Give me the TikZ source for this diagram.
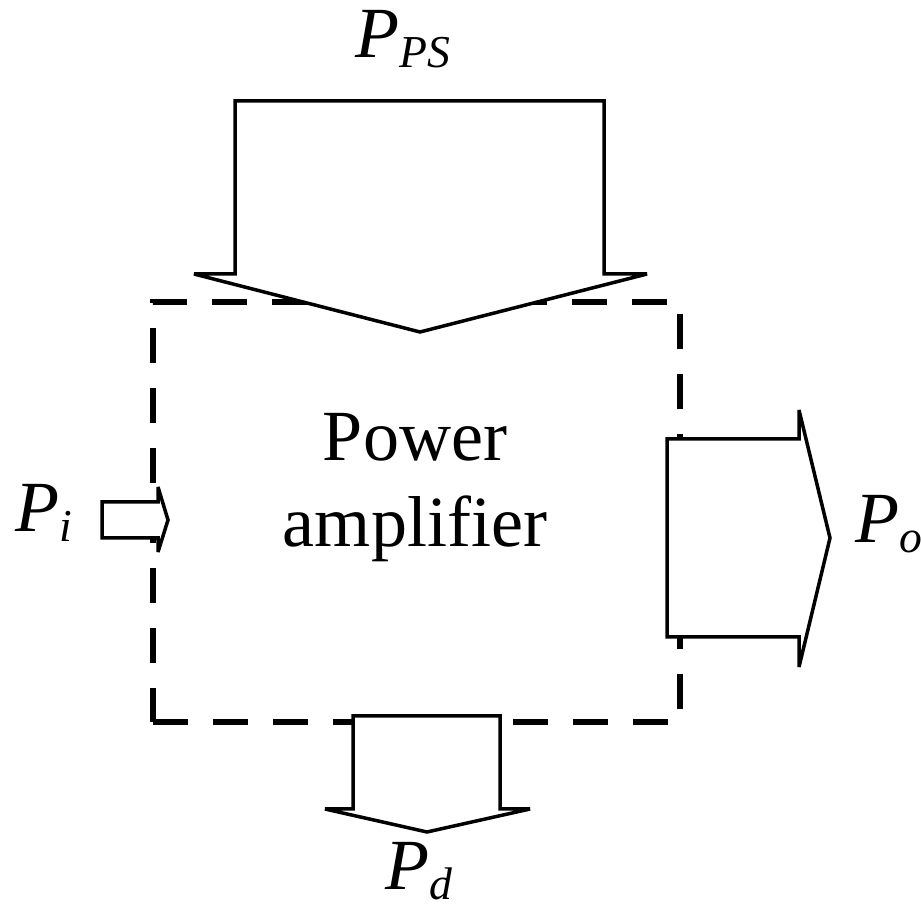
\documentclass[tikz,border=0pt]{standalone}
\usepackage{fontspec}
\setmainfont{Liberation Serif}
\usepackage{tikz}
\usetikzlibrary{positioning}

\newcommand{\pwr}[1]{\textit{P}\raisebox{-0.2cm}{\fontsize{26}{30}\selectfont\textit{#1}}}

\begin{document}
\begin{tikzpicture}[
    x=0.02cm, y=-0.02cm,
    every node/.style={inner sep=0pt, font=\fontsize{41}{49}\selectfont},
    pabox/.style={draw, line width=0.12cm, dash pattern=on 0.7cm off 0.5cm,
                minimum width=10.54cm, minimum height=8.4cm},
    flow/.style={draw, fill=white, line width=0.07cm, line join=miter, miter limit=4},
    plabel/.style={anchor=base west}
]
\useasboundingbox (0,0) rectangle (921,915);

% dashed block
\node[pabox] (pa) at (416.5,512) {};
\node[align=center] (txt) at (415,488) {Power\\amplifier};

% supply power, top
\draw[flow] (235,101) -- (604,101) -- (604,274) -- (647,274) -- (420,332)
    -- (194,274) -- (235,274) -- cycle;
% output power, right
\draw[flow] (667,439) -- (799,439) -- (799,410) -- (830,538) -- (799,667)
    -- (799,637) -- (667,637) -- cycle;
% dissipated power, bottom
\draw[flow] (353,716) -- (500,716) -- (500,809) -- (530,809) -- (427,832)
    -- (325,809) -- (353,809) -- cycle;
% input power, left
\draw[flow] (102,502) -- (158,502) -- (158,487) -- (168,520) -- (158,552)
    -- (158,538) -- (102,538) -- cycle;

\node[plabel] (pps) at (355,58) {\pwr{PS}};
\node[plabel] (pin) at (15,532) {\pwr{i}};
\node[plabel] (pout) at (855,543) {\pwr{o}};
\node[plabel] (pdis) at (385,890) {\pwr{d}};
\end{tikzpicture}
\end{document}
